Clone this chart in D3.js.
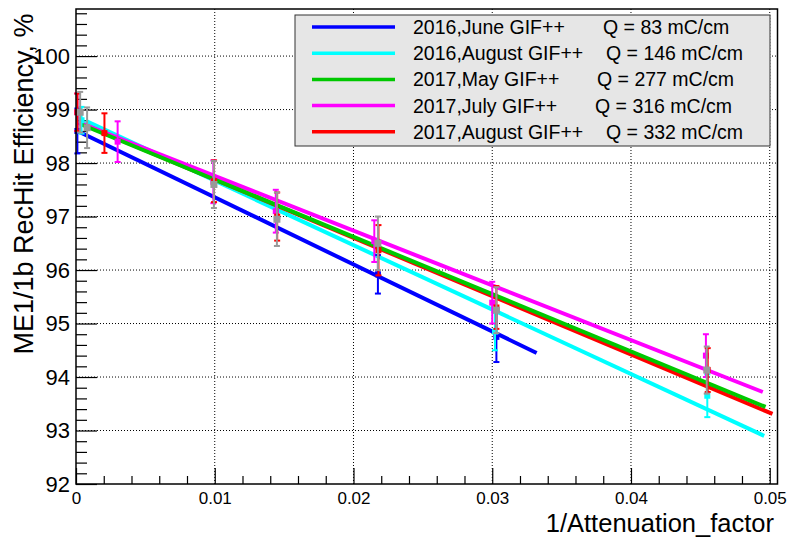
<!DOCTYPE html>
<html>
<head>
<meta charset="utf-8">
<script src="https://cdn.jsdelivr.net/npm/d3@7"></script>
<style>
  body { margin: 0; background: #fff; }
  svg text { font-family: "Liberation Sans", Arial, sans-serif; fill: #000; }
</style>
</head>
<body>
<svg id="chart" width="792" height="539"></svg>
<script>
// series
const seriesNames = ["2016,June GIF++", "2016,August GIF++", "2017,May GIF++", "2017,July GIF++", "2017,August GIF++"]
const seriesCharge = ["Q = 83 mC/cm", "Q = 146 mC/cm", "Q = 277 mC/cm", "Q = 316 mC/cm", "Q = 332 mC/cm"]
const seriesColors = ["#0000ff", "#00ffff", "#00c800", "#ff00ff", "#ff0000"]

// fit lines: start and end [x, y]
const fitStart = [[0.0001, 98.6], [0.0007, 98.79], [0.0003, 98.73], [0.0002, 98.76], [0.0002, 98.76]]
const fitEnd = [[0.0332, 94.45], [0.0496, 92.9], [0.0497, 93.44], [0.0495, 93.72], [0.0502, 93.31]]

// measured points [x, y, error]
const junePts = [[0.0001, 98.6, 0.42], [0.02176, 95.92, 0.36], [0.0303, 94.75, 0.47]]
const augustPts = [[0.0004, 98.8, 0.25], [0.0302, 94.85, 0.35], [0.0455, 93.65, 0.4]]
const mayPts = []
const julyPts = [[0.0001, 98.95, 0.35], [0.003, 98.4, 0.38], [0.0099, 97.65, 0.4], [0.0144, 97.1, 0.4],
  [0.0215, 96.54, 0.39], [0.0300, 95.39, 0.39], [0.0454, 94.4, 0.4]]
const august17Pts = [[0.0001, 98.95, 0.35], [0.00205, 98.56, 0.37], [0.00995, 97.66, 0.39], [0.0145, 97.0, 0.45],
  [0.0218, 96.37, 0.47], [0.0303, 95.3, 0.4], [0.04553, 94.13, 0.41]]
const grayPts = [[0.0003, 98.95, 0.38], [0.0008, 98.66, 0.38], [0.00994, 97.6, 0.44], [0.01448, 96.95, 0.5],
  [0.02176, 96.5, 0.5], [0.0303, 95.25, 0.43], [0.04546, 94.13, 0.44]]
const seriesPts = [junePts, augustPts, mayPts, julyPts, august17Pts]

const xMajorTicks = [0, 0.01, 0.02, 0.03, 0.04, 0.05]
const yMajorTicks = [92, 93, 94, 95, 96, 97, 98, 99, 100]

const svg = d3.select("#chart")

const x = d3.scaleLinear().domain([0, 0.05056]).range([76, 777.5])
const y = d3.scaleLinear().domain([92, 100.88]).range([484, 9])

// grid
const grid = svg.append("g")
grid.selectAll(".gx")
  .data(xMajorTicks.filter(d => d > 0))
  .enter().append("line")
  .attr("x1", d => x(d)).attr("x2", d => x(d))
  .attr("y1", y.range()[0]).attr("y2", y.range()[1])
  .attr("stroke", "#000").attr("stroke-width", 1).attr("stroke-dasharray", "1,2")
grid.selectAll(".gy")
  .data(yMajorTicks.filter(d => d > 92))
  .enter().append("line")
  .attr("y1", d => y(d)).attr("y2", d => y(d))
  .attr("x1", x.range()[0]).attr("x2", x.range()[1])
  .attr("stroke", "#000").attr("stroke-width", 1).attr("stroke-dasharray", "1,2")

// axes, ROOT style ticks inside the frame
const xMinor = d3.range(0, 0.0505, 0.002).filter(v => Math.abs(v / 0.01 - Math.round(v / 0.01)) > 1e-6)
const yMinor = d3.range(92, 100.85, 0.2).filter(v => Math.abs(v - Math.round(v)) > 1e-6)

const xAxis = svg.append("g").attr("transform", `translate(0,${y.range()[0]})`)
  .call(d3.axisBottom(x).tickValues(xMajorTicks).tickSizeInner(-16).tickSizeOuter(0).tickPadding(8)
    .tickFormat(d => d === 0 ? "0" : d3.format(".2f")(d)))
xAxis.append("g")
  .call(d3.axisBottom(x).tickValues(xMinor).tickSizeInner(-8).tickSizeOuter(0).tickFormat(""))

const yAxis = svg.append("g").attr("transform", `translate(${x.range()[0]},0)`)
  .call(d3.axisLeft(y).tickValues(yMajorTicks).tickSizeInner(-21).tickSizeOuter(0).tickPadding(6)
    .tickFormat(d3.format("d")))
yAxis.append("g")
  .call(d3.axisLeft(y).tickValues(yMinor).tickSizeInner(-11).tickSizeOuter(0).tickFormat(""))

svg.selectAll(".domain").remove()
svg.selectAll(".tick line").attr("stroke", "#000").attr("stroke-width", 1.2)
xAxis.selectAll("text").style("font-size", "17px")
yAxis.selectAll("text").style("font-size", "22px")

// fit lines
const line = d3.line().x(d => x(d[0])).y(d => y(d[1]))
const drawOrder = [0, 1, 4, 3, 2]
const fits = svg.append("g")
drawOrder.forEach(i => {
  fits.append("path")
    .attr("d", line([fitStart[i], fitEnd[i]]))
    .attr("fill", "none")
    .attr("stroke", seriesColors[i])
    .attr("stroke-width", 4)
})

// error bars
function drawPoints(pts, color, size) {
  const g = svg.append("g")
  const pt = g.selectAll("g").data(pts).enter().append("g")
  pt.append("line")
    .attr("x1", d => x(d[0])).attr("x2", d => x(d[0]))
    .attr("y1", d => y(d[1] - d[2])).attr("y2", d => y(d[1] + d[2]))
    .attr("stroke", color).attr("stroke-width", 2)
  pt.append("line")
    .attr("x1", d => x(d[0]) - 3).attr("x2", d => x(d[0]) + 3)
    .attr("y1", d => y(d[1] - d[2])).attr("y2", d => y(d[1] - d[2]))
    .attr("stroke", color).attr("stroke-width", 2)
  pt.append("line")
    .attr("x1", d => x(d[0]) - 3).attr("x2", d => x(d[0]) + 3)
    .attr("y1", d => y(d[1] + d[2])).attr("y2", d => y(d[1] + d[2]))
    .attr("stroke", color).attr("stroke-width", 2)
  pt.append("rect")
    .attr("x", d => x(d[0]) - size / 2).attr("y", d => y(d[1]) - size / 2)
    .attr("width", size).attr("height", size)
    .attr("fill", color)
}
seriesPts.forEach((pts, i) => drawPoints(pts, seriesColors[i], 6))
drawPoints(grayPts, "#999999", 7)

// frame
svg.append("rect")
  .attr("x", x.range()[0]).attr("y", y.range()[1])
  .attr("width", x.range()[1] - x.range()[0]).attr("height", y.range()[0] - y.range()[1])
  .attr("fill", "none").attr("stroke", "#000").attr("stroke-width", 1.5)

// legend
const legend = svg.append("g")
legend.append("rect")
  .attr("x", 295).attr("y", 15).attr("width", 475).attr("height", 131)
  .attr("fill", "#e6e6e6").attr("stroke", "#333").attr("stroke-width", 1)
const qX = [603, 606, 597, 595, 606]
seriesNames.forEach((name, i) => {
  const ly = 27 + i * 26.2
  legend.append("line")
    .attr("x1", 312).attr("x2", 395).attr("y1", ly).attr("y2", ly)
    .attr("stroke", seriesColors[i]).attr("stroke-width", 3.5)
  legend.append("text")
    .attr("x", 413).attr("y", ly + 7)
    .style("font-size", "19.5px")
    .text(name)
  legend.append("text")
    .attr("x", qX[i]).attr("y", ly + 7)
    .style("font-size", "19.5px")
    .text(seriesCharge[i])
})

// axis titles
svg.append("text")
  .attr("x", 774).attr("y", 532)
  .attr("text-anchor", "end")
  .style("font-size", "25.5px")
  .text("1/Attenuation_factor")

svg.append("text")
  .attr("transform", "translate(33,184) rotate(-90)")
  .attr("text-anchor", "middle")
  .style("font-size", "27px")
  .text("ME1/1b RecHit Efficiency, %")
</script>
</body>
</html>
